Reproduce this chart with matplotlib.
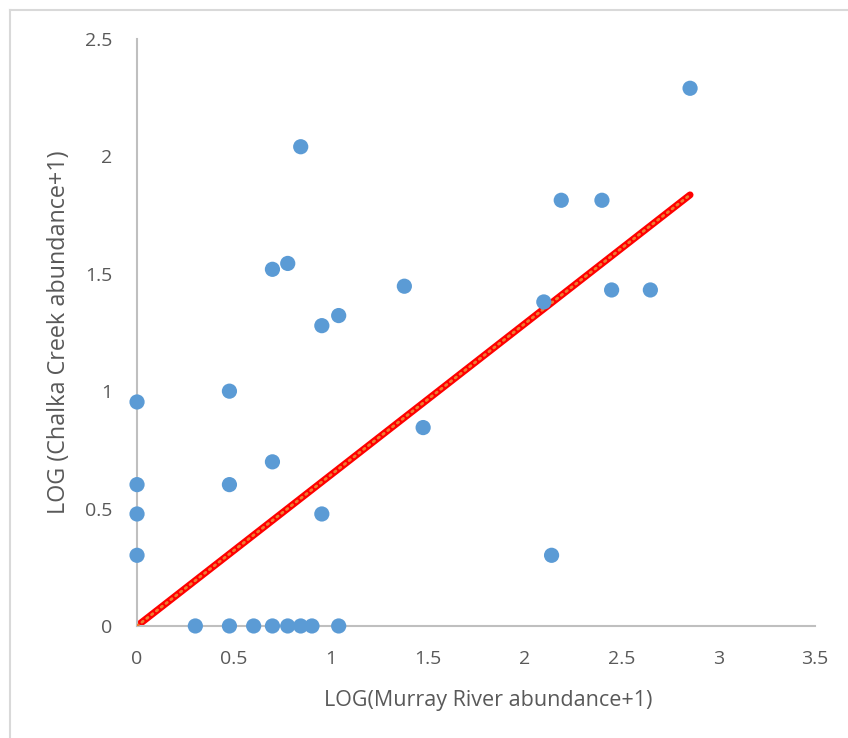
import numpy as np
import matplotlib.pyplot as plt
from matplotlib.lines import Line2D

plt.rcParams['font.family'] = ['Open Sans', 'DejaVu Sans']

# log10(abundance + 1) for each taxon
murray = [0, 0, 0, 0,
          0.301, 0.477, 0.602, 0.699, 0.778, 0.845, 0.903, 1.041,
          0.477, 0.477, 0.699, 0.699, 0.778, 0.845, 0.954, 1.041, 0.954,
          1.380, 1.477, 2.100, 2.140, 2.190, 2.400, 2.450, 2.650, 2.855]
chalka = [0.954, 0.602, 0.477, 0.301,
          0, 0, 0, 0, 0, 0, 0, 0,
          1.0, 0.602, 0.699, 1.519, 1.544, 2.041, 1.279, 1.322, 0.477,
          1.447, 0.845, 1.380, 0.301, 1.813, 1.813, 1.431, 1.431, 2.290]

# trend line end points
line_x = [0, 2.855]
line_y = [0, 1.836]

xticks = [0, 0.5, 1, 1.5, 2, 2.5, 3, 3.5]
yticks = [0, 0.5, 1, 1.5, 2, 2.5]

fig = plt.figure(figsize=(8.48, 7.38), dpi=100)
ax = fig.add_axes([0.1616, 0.1518, 0.7995, 0.7954])

ax.plot(line_x, line_y, color='#ff0000', lw=5, solid_capstyle='round', zorder=2)
ax.plot(line_x, line_y, color='#ed7d31', lw=2, ls=(0, (0.6, 1.6)),
        dash_capstyle='round', zorder=3)
ax.scatter(murray, chalka, s=120, color='#5b9bd5', edgecolors='none',
           zorder=4, clip_on=False)

ax.set_xlim(0, 3.5)
ax.set_ylim(0, 2.5)
ax.set_xticks(xticks)
ax.set_yticks(yticks)
ax.set_xticklabels([f'{t:g}' for t in xticks])
ax.set_yticklabels([f'{t:g}' for t in yticks])
ax.tick_params(length=0, labelsize=14, colors='#595959')
ax.tick_params(axis='x', pad=17)
ax.tick_params(axis='y', pad=18)
for side in ['top', 'right']:
    ax.spines[side].set_visible(False)
for side in ['left', 'bottom']:
    ax.spines[side].set_color('#bfbfbf')
    ax.spines[side].set_linewidth(1.5)

ax.set_xlabel('LOG(Murray River abundance+1)', fontsize=15.5, color='#595959', labelpad=16)
ax.xaxis.label.set_x(0.518)
ax.set_ylabel('LOG (Chalka Creek abundance+1)', fontsize=16.8, color='#595959', labelpad=10)

# outer chart frame
fig.add_artist(Line2D([10 / 848, 10 / 848], [0, 1 - 10 / 738], color='#d9d9d9', lw=1.5))
fig.add_artist(Line2D([10 / 848, 1], [1 - 10 / 738, 1 - 10 / 738], color='#d9d9d9', lw=1.5))

fig.savefig('out.png', dpi=100)
